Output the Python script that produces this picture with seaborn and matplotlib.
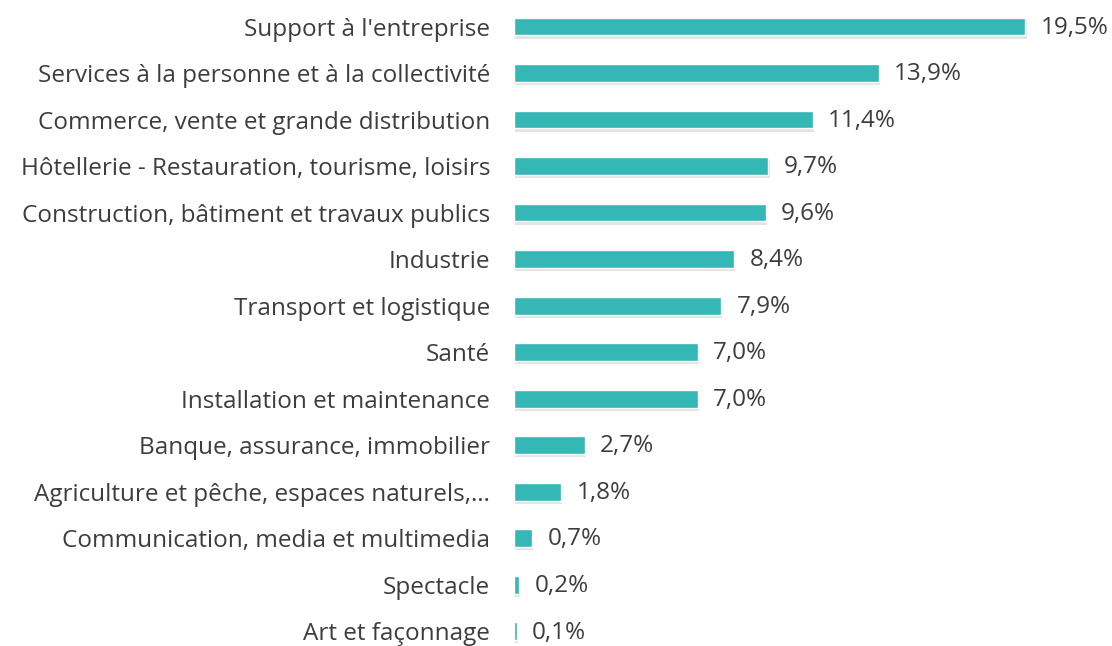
import matplotlib
matplotlib.use("Agg")
import matplotlib.pyplot as plt
import matplotlib.patheffects as pe
import seaborn as sns
import pandas as pd

categories = [
    "Support à l'entreprise",
    "Services à la personne et à la collectivité",
    "Commerce, vente et grande distribution",
    "Hôtellerie - Restauration, tourisme, loisirs",
    "Construction, bâtiment et travaux publics",
    "Industrie",
    "Transport et logistique",
    "Santé",
    "Installation et maintenance",
    "Banque, assurance, immobilier",
    "Agriculture et pêche, espaces naturels,…",
    "Communication, media et multimedia",
    "Spectacle",
    "Art et façonnage",
]
values = [19.5, 13.9, 11.4, 9.7, 9.6, 8.4, 7.9, 7.0, 7.0, 2.7, 1.8, 0.7, 0.2, 0.1]
value_labels = ["19,5%", "13,9%", "11,4%", "9,7%", "9,6%", "8,4%", "7,9%",
                "7,0%", "7,0%", "2,7%", "1,8%", "0,7%", "0,2%", "0,1%"]

sns.set_theme(style="white")
plt.rcParams['font.family'] = ['Open Sans', 'DejaVu Sans']

df = pd.DataFrame({"cat": categories, "val": values})

fig = plt.figure(figsize=(11.12, 6.46), dpi=100)
ax = fig.add_axes([0.4622, 0.0, 0.5378, 1.0])
sns.barplot(data=df, y="cat", x="val", orient="h", color="#35B8B5",
            saturation=1, width=0.385, ax=ax)

for p in ax.patches:
    p.set_path_effects([pe.SimplePatchShadow(offset=(0.8, -2.2), alpha=0.15, shadow_rgbFace="#444444"),
                        pe.Normal()])

ax.set_xlim(0, 22.8)
ax.set_ylim(13.32, -0.57)
for i, (v, lab) in enumerate(zip(values, value_labels)):
    ax.annotate(lab, xy=(v, i), xytext=(11, -1), textcoords="offset points",
                va="center", ha="left", fontsize=17.5, color="#3d3d3d")

ax.set_xlabel("")
ax.set_ylabel("")
ax.set_xticks([])
ax.tick_params(axis="y", length=0, pad=17, labelsize=17.5, labelcolor="#3d3d3d")
sns.despine(ax=ax, left=True, bottom=True)

fig.savefig("out.png", dpi=100)
